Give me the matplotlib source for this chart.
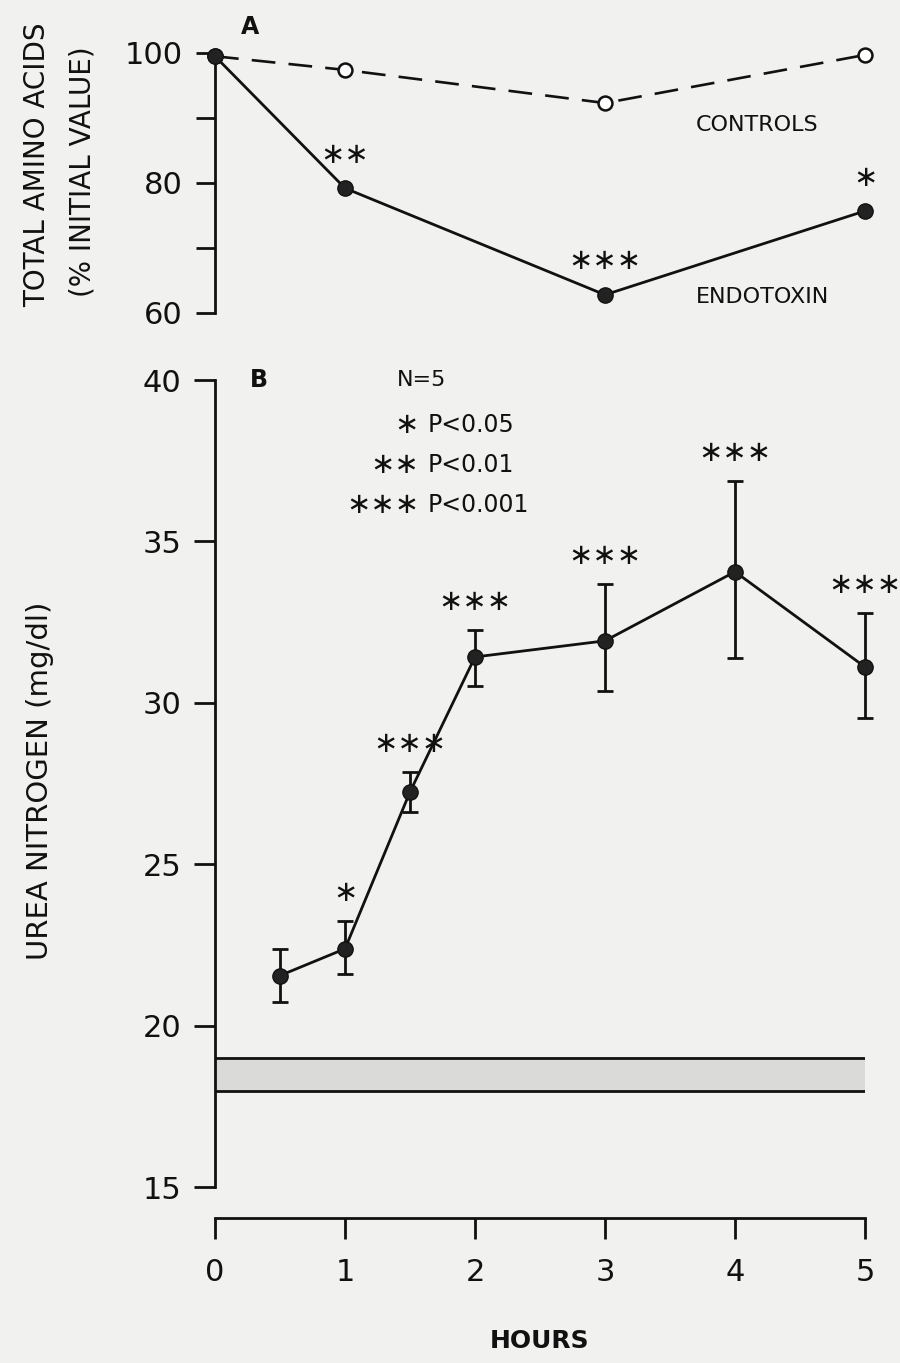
import matplotlib.pyplot as plt
import numpy as np

# panel A: total amino acids, % of initial value
hours_a = [0, 1, 3, 5]
controls = [99.5, 97.4, 92.3, 99.7]
endotoxin = [99.5, 79.2, 62.8, 75.7]
stars_a = ['', '**', '***', '*']

# panel B: urea nitrogen (mg/dl), mean with upper/lower error limits
hours_b = [0.5, 1, 1.5, 2, 3, 4, 5]
urea = [21.55, 22.38, 27.24, 31.42, 31.92, 34.06, 31.11]
urea_hi = [22.38, 23.25, 27.86, 32.26, 33.68, 36.87, 32.79]
urea_lo = [20.74, 21.61, 26.63, 30.52, 30.37, 31.39, 29.54]
stars_b = ['', '*', '***', '***', '***', '***', '***']
normal_band = (17.96, 18.99)

legend_stars = ['*', '**', '***']
legend_p = ['P<0.05', 'P<0.01', 'P<0.001']

W, H = 900, 1363
bg = '#f1f1ef'
ink = '#111111'
plt.rcParams['font.family'] = ['DejaVu Sans']


def fx(px):
    return px / W


def fy(py):
    return 1 - py / H


def star_txt(s):
    # centred asterisks, one per star
    return '\u2217' * len(s)


fig = plt.figure(figsize=(9, 13.63), dpi=100, facecolor=bg)

# ---- panel A ----
axA = fig.add_axes([fx(215), fy(313), fx(650), (313 - 53) / H])
axA.set_facecolor('none')
axA.set_xlim(0, 5)
axA.set_ylim(60, 100)
for s in ['top', 'right', 'bottom']:
    axA.spines[s].set_visible(False)
axA.spines['left'].set_linewidth(2)
axA.spines['left'].set_color(ink)
axA.set_xticks([])
axA.set_yticks([60, 80, 100])
axA.set_yticks([70, 90], minor=True)
axA.tick_params(axis='y', which='both', length=14, width=2, color=ink,
                labelsize=22, pad=9, labelcolor=ink)

ln, = axA.plot(hours_a, controls, color=ink, lw=1.9, marker='o', ms=10,
               mfc='white', mec=ink, mew=1.8, clip_on=False, zorder=3)
ln.set_dashes([9, 5])
axA.plot(hours_a, endotoxin, color=ink, lw=2, marker='o', ms=11,
         mfc='#222222', mec=ink, clip_on=False, zorder=4)
for x, y, s in zip(hours_a, endotoxin, stars_a):
    if s:
        axA.annotate(star_txt(s), (x, y), xytext=(0, 24), textcoords='offset points',
                     ha='center', va='center', fontsize=21, color=ink)

fig.text(fx(250), fy(27), 'A', fontsize=17, fontweight='bold', color=ink,
         ha='center', va='center')
fig.text(fx(757), fy(125), 'CONTROLS', fontsize=16, color=ink, ha='center', va='center')
fig.text(fx(762), fy(297), 'ENDOTOXIN', fontsize=16, color=ink, ha='center', va='center')
fig.text(fx(37), fy(165), 'TOTAL AMINO ACIDS', rotation=90, fontsize=20,
         color=ink, ha='center', va='center')
fig.text(fx(82), fy(172), '(% INITIAL VALUE)', rotation=90, fontsize=20,
         color=ink, ha='center', va='center')

# ---- panel B ----
ylo = 15 - (1218 - 1187) / 32.3
axB = fig.add_axes([fx(215), fy(1218), fx(650), (1218 - 380) / H])
axB.set_facecolor('none')
axB.set_xlim(0, 5)
axB.set_ylim(ylo, 40)
for s in ['top', 'right']:
    axB.spines[s].set_visible(False)
for s in ['left', 'bottom']:
    axB.spines[s].set_linewidth(2)
    axB.spines[s].set_color(ink)
axB.spines['left'].set_bounds(15, 40)
axB.set_yticks([15, 20, 25, 30, 35, 40])
axB.set_xticks([0, 1, 2, 3, 4, 5])
axB.tick_params(axis='both', length=15, width=2, color=ink, labelsize=22,
                labelcolor=ink)
axB.tick_params(axis='y', pad=9)
axB.tick_params(axis='x', pad=14)
axB.set_xlabel('HOURS', fontsize=18, fontweight='bold', color=ink, labelpad=30)

axB.fill_between([0, 5], normal_band[0], normal_band[1], color='#dadad8', lw=0)
axB.hlines(normal_band, 0, 5, color=ink, lw=2)

err = [np.subtract(urea, urea_lo), np.subtract(urea_hi, urea)]
axB.errorbar(hours_b, urea, yerr=err, color=ink, lw=2, elinewidth=2, capsize=6,
             capthick=2, marker='o', ms=11, mfc='#222222', mec=ink,
             clip_on=False, zorder=4)
for x, y, s in zip(hours_b, urea_hi, stars_b):
    if s:
        axB.annotate(star_txt(s), (x, y), xytext=(0, 20), textcoords='offset points',
                     ha='center', va='center', fontsize=21, color=ink,
                     annotation_clip=False)

fig.text(fx(259), fy(380), 'B', fontsize=17, fontweight='bold', color=ink,
         ha='center', va='center')
fig.text(fx(397), fy(380), 'N=5', fontsize=16, color=ink, ha='left', va='center')
for i, (s, p) in enumerate(zip(legend_stars, legend_p)):
    yy = 425 + 40 * i
    fig.text(fx(419), fy(yy), star_txt(s), fontsize=21, color=ink, ha='right', va='center')
    fig.text(fx(428), fy(yy), p, fontsize=17, color=ink, ha='left', va='center')

fig.text(fx(40), fy(781), 'UREA NITROGEN (mg/dl)', rotation=90, fontsize=21,
         color=ink, ha='center', va='center')

fig.savefig('out.png', dpi=100, facecolor=bg)
